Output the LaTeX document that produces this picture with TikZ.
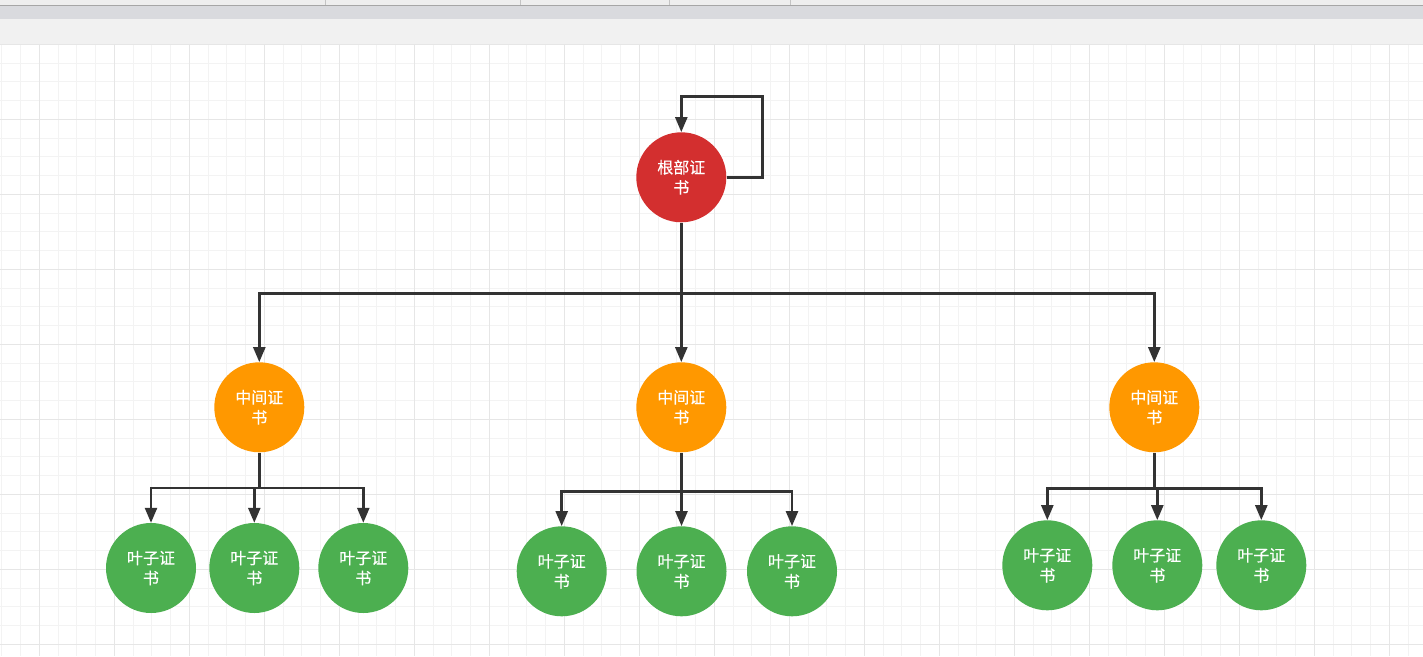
\documentclass[tikz,border=0pt]{standalone}
\usepackage{fontspec}
\newfontfamily\cjk[FakeBold=0.4]{Noto Sans CJK SC}
\usetikzlibrary{arrows.meta}

\definecolor{rootred}{HTML}{D32F2F}
\definecolor{midorange}{HTML}{FF9800}
\definecolor{leafgreen}{HTML}{4CAF50}
\definecolor{wire}{HTML}{333333}
\definecolor{gridminor}{HTML}{F3F3F3}
\definecolor{gridmajor}{HTML}{E6E6E6}
\definecolor{barlight}{HTML}{EEEEEE}
\definecolor{barband}{HTML}{D9DADE}
\definecolor{barline}{HTML}{A6A6A6}
\definecolor{barsep}{HTML}{C4C4C4}
\definecolor{panel}{HTML}{F1F1F1}

\tikzset{
  cert/.style={circle, minimum size=90pt, inner sep=0pt, draw=none,
    text=white, align=center, font=\cjk\fontsize{16}{20}\selectfont},
  rootcert/.style={cert, fill=rootred},
  midcert/.style={cert, fill=midorange},
  leafcert/.style={cert, fill=leafgreen},
  link/.style={draw=wire, line width=2.5pt, line join=miter,
    -{Triangle[length=15pt,width=12pt]}},
  plain/.style={draw=wire, line width=2.5pt},
  minorline/.style={draw=gridminor, line width=1pt},
  majorline/.style={draw=gridmajor, line width=1pt},
}

\begin{document}
\begin{tikzpicture}[x=1pt, y=-1pt]
  \useasboundingbox (0,0) rectangle (1423,656);

  % window chrome above the canvas
  \fill[barlight] (0,0) rectangle (1423,5.3);
  \foreach \sx in {325.7,520.7,669.3,790.7}
    \draw[barsep, line width=1pt] (\sx,0) -- (\sx,5.3);
  \fill[barband] (0,5.3) rectangle (1423,18.7);
  \draw[barline, line width=1pt] (0,5.6) -- (1423,5.6);
  \fill[panel] (0,18.7) rectangle (1423,44);

  % canvas grid
  \fill[white] (0,44) rectangle (1423,656);
  \foreach \i in {0,...,75} {
    \pgfmathsetmacro\gx{1.8+18.75*\i}
    \draw[minorline] (\gx,44) -- (\gx,656);
  }
  \foreach \j in {0,...,33} {
    \pgfmathsetmacro\gy{44.3+18.75*\j}
    \draw[minorline] (0,\gy) -- (1423,\gy);
  }
  \foreach \i in {0,...,18} {
    \pgfmathsetmacro\gx{39.3+75*\i}
    \draw[majorline] (\gx,44) -- (\gx,656);
  }
  \foreach \j in {0,...,8} {
    \pgfmathsetmacro\gy{44.3+75*\j}
    \draw[majorline] (0,\gy) -- (1423,\gy);
  }

  % certificates
  \node[rootcert] (root) at (681.3,177.3) {根部证\\书};

  \node[midcert] (m1) at (259.3,407.3) {中间证\\书};
  \node[midcert] (m2) at (681.3,407.3) {中间证\\书};
  \node[midcert] (m3) at (1154.3,407.3) {中间证\\书};

  \node[leafcert] (l11) at (151,568) {叶子证\\书};
  \node[leafcert] (l12) at (254.3,568) {叶子证\\书};
  \node[leafcert] (l13) at (363.3,568) {叶子证\\书};

  \node[leafcert] (l21) at (561.7,571.3) {叶子证\\书};
  \node[leafcert] (l22) at (681.5,571.3) {叶子证\\书};
  \node[leafcert] (l23) at (792,571.3) {叶子证\\书};

  \node[leafcert] (l31) at (1047.3,565.3) {叶子证\\书};
  \node[leafcert] (l32) at (1157.3,565.3) {叶子证\\书};
  \node[leafcert] (l33) at (1261.3,565.3) {叶子证\\书};

  % self-signed loop on the root
  \coordinate (loop) at (762.3,96.5);
  \draw[link] (root.east) -| (loop) -| (root.north);

  % root to intermediates
  \coordinate (rbus) at (681.3,293.3);
  \draw[plain] (root.south) -- (rbus);
  \draw[link] (rbus) -| (m1.north);
  \draw[link] (rbus) -- (m2.north);
  \draw[link] (rbus) -| (m3.north);

  % intermediates to leaves
  \coordinate (bus1) at (259.3,488);
  \draw[plain] (m1.south) -- (bus1);
  \foreach \t in {l11,l12,l13}
    \draw[link] (bus1) -| (\t.north);

  \coordinate (bus2) at (681.3,491.7);
  \draw[plain] (m2.south) -- (bus2);
  \foreach \t in {l21,l22,l23}
    \draw[link] (bus2) -| (\t.north);

  \coordinate (bus3) at (1154.3,488.3);
  \draw[plain] (m3.south) -- (bus3);
  \foreach \t in {l31,l32,l33}
    \draw[link] (bus3) -| (\t.north);
\end{tikzpicture}
\end{document}
